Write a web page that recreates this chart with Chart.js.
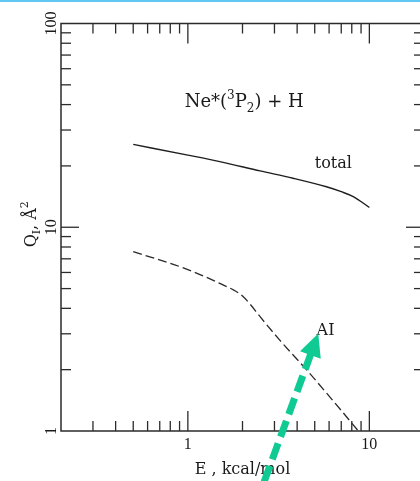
<!DOCTYPE html>
<html><head><meta charset="utf-8">
<script src="https://cdn.jsdelivr.net/npm/chart.js@4"></script>
<style>
html,body{margin:0;padding:0;background:#fff;overflow:hidden;width:420px;height:481px;}
#wrap{position:absolute;left:0;top:0;width:426px;height:481px;}
#bar{position:absolute;left:0;top:0;width:420px;height:2px;background:#62c6f2;z-index:2;}
</style></head><body>
<div id="bar"></div>
<div id="wrap"><canvas id="c"></canvas></div>
<script>
// ---- data ----
const totalEnergy = [0.5, 1.0, 1.5, 2.5, 3.8, 5.8, 7.0, 8.2, 10];
const totalQ      = [25.5, 22.6, 21.0, 18.9, 17.4, 15.8, 14.95, 14.1, 12.5];
const aiEnergy = [0.5, 1.0, 1.5, 1.8, 2.0, 2.2, 2.5, 3.2, 4.5, 6.3, 8.7];
const aiQ      = [7.6, 6.2, 5.3, 4.9, 4.6, 4.2, 3.64, 2.8, 2.0, 1.41, 1.0];
const xRange = [0.2, 20];
const yRange = [1, 100];
const xMajorTicks = [1, 10];
const xMinorTicks = [0.3, 0.4, 0.5, 0.6, 0.7, 0.8, 0.9, 2, 3, 4, 5, 6, 7, 8, 9];
const yMajorTicks = [10];
const yMinorTicks = [2, 3, 4, 5, 6, 7, 8, 9, 20, 30, 40, 50, 60, 70, 80, 90];
const xTickLabels = [1, 10];
const yTickLabels = [1, 10, 100];
const xTitle = 'E , kcal/mol';
const yTitleMain = 'Q', yTitleSub = 'I', yTitleMid = ', Å', yTitleSup = '2';
const titleA = 'Ne*(', titleSup = '3', titleB = 'P', titleSub = '2', titleC = ') + H';
const titleAnchor = [0.96, 39];     // data coords (E, Q) of title left baseline
const totalLabel = 'total', totalLabelAt = [5.0, 19.5];
const aiLabel = 'AI', aiLabelAt = [5.12, 2.96];
const arrowTail = [2.59, 0.542];
const arrowTip  = [5.23, 3.01];

const SERIF = '"DejaVu Serif", serif';
const NUMF = '"Liberation Serif", serif';

function drawRich(ctx, parts, x, y, align) {
  let w = 0;
  parts.forEach(p => { ctx.font = p.size + 'px ' + SERIF; p.w = ctx.measureText(p.t).width; w += p.w; });
  let cx = align === 'center' ? x - w / 2 : x;
  ctx.textAlign = 'left';
  ctx.textBaseline = 'alphabetic';
  parts.forEach(p => { ctx.font = p.size + 'px ' + SERIF; ctx.fillText(p.t, cx, y + p.dy); cx += p.w; });
}

const framePlugin = {
  id: 'framePlugin',
  afterDraw(chart) {
    const { ctx, chartArea: a, scales: { x, y } } = chart;
    ctx.save();
    ctx.strokeStyle = '#2b2b2b';
    ctx.lineWidth = 1.5;
    ctx.strokeRect(a.left, a.top, a.right - a.left, a.bottom - a.top);
    ctx.lineWidth = 1.3;
    const seg = (x1, y1, x2, y2) => { ctx.beginPath(); ctx.moveTo(x1, y1); ctx.lineTo(x2, y2); ctx.stroke(); };
    xMinorTicks.forEach(v => { const p = x.getPixelForValue(v); seg(p, a.bottom, p, a.bottom - 10); seg(p, a.top, p, a.top + 10); });
    xMajorTicks.forEach(v => { const p = x.getPixelForValue(v); seg(p, a.bottom, p, a.bottom - 20); seg(p, a.top, p, a.top + 20); });
    yMinorTicks.forEach(v => { const p = y.getPixelForValue(v); seg(a.left, p, a.left + 10, p); seg(a.right, p, a.right - 10, p); });
    yMajorTicks.forEach(v => { const p = y.getPixelForValue(v); seg(a.left, p, a.left + 18, p); seg(a.right, p, a.right - 18, p); });

    ctx.fillStyle = '#1a1a1a';
    ctx.font = '16px ' + NUMF;
    ctx.textAlign = 'center';
    ctx.textBaseline = 'middle';
    xTickLabels.forEach(v => ctx.fillText(String(v), x.getPixelForValue(v), a.bottom + 14));
    yTickLabels.forEach(v => {
      ctx.save();
      ctx.translate(a.left - 9.5, y.getPixelForValue(v));
      ctx.rotate(-Math.PI / 2);
      ctx.fillText(String(v), 0, 0);
      ctx.restore();
    });

    // axis titles
    drawRich(ctx, [{ t: xTitle, size: 16, dy: 0 }], (a.left + a.right) / 2, a.bottom + 43, 'center');
    ctx.save();
    ctx.translate(36, (a.top + a.bottom) / 2 - 3);
    ctx.rotate(-Math.PI / 2);
    drawRich(ctx, [
      { t: yTitleMain, size: 16, dy: 0 },
      { t: yTitleSub, size: 11, dy: 4 },
      { t: yTitleMid, size: 16, dy: 0 },
      { t: yTitleSup, size: 11, dy: -8 }
    ], 0, 0, 'center');
    ctx.restore();

    // chart title and curve labels
    drawRich(ctx, [
      { t: titleA, size: 18, dy: 0 },
      { t: titleSup, size: 12, dy: -8 },
      { t: titleB, size: 18, dy: 0 },
      { t: titleSub, size: 12, dy: 5 },
      { t: titleC, size: 18, dy: 0 }
    ], x.getPixelForValue(titleAnchor[0]), y.getPixelForValue(titleAnchor[1]), 'left');
    drawRich(ctx, [{ t: totalLabel, size: 16, dy: 0 }], x.getPixelForValue(totalLabelAt[0]), y.getPixelForValue(totalLabelAt[1]), 'left');
    drawRich(ctx, [{ t: aiLabel, size: 16, dy: 0 }], x.getPixelForValue(aiLabelAt[0]), y.getPixelForValue(aiLabelAt[1]), 'left');

    // green annotation arrow
    const tx = x.getPixelForValue(arrowTail[0]), ty = y.getPixelForValue(arrowTail[1]);
    const hx = x.getPixelForValue(arrowTip[0]), hy = y.getPixelForValue(arrowTip[1]);
    const len = Math.hypot(hx - tx, hy - ty);
    const ux = (hx - tx) / len, uy = (hy - ty) / len;
    const headL = 23, headW = 22;
    const bx = hx - ux * headL, by = hy - uy * headL;
    ctx.strokeStyle = '#0fcb93';
    ctx.fillStyle = '#0fcb93';
    ctx.lineWidth = 7;
    ctx.lineCap = 'butt';
    ctx.setLineDash([17, 7]);
    ctx.lineDashOffset = 0;
    ctx.beginPath(); ctx.moveTo(bx + ux * 2, by + uy * 2); ctx.lineTo(tx, ty); ctx.stroke();
    ctx.setLineDash([]);
    ctx.beginPath();
    ctx.moveTo(hx, hy);
    ctx.lineTo(bx - uy * headW / 2, by + ux * headW / 2);
    ctx.lineTo(bx + uy * headW / 2, by - ux * headW / 2);
    ctx.closePath();
    ctx.fill();
    ctx.restore();
  }
};

new Chart(document.getElementById('c'), {
  type: 'line',
  data: {
    datasets: [
      {
        label: 'total',
        data: totalEnergy.map((e, i) => ({ x: e, y: totalQ[i] })),
        borderColor: '#1e1e1e', borderWidth: 1.4, pointRadius: 0,
        cubicInterpolationMode: 'monotone', fill: false
      },
      {
        label: 'AI',
        data: aiEnergy.map((e, i) => ({ x: e, y: aiQ[i] })),
        borderColor: '#2a2a2a', borderWidth: 1.3, borderDash: [9, 4], pointRadius: 0,
        cubicInterpolationMode: 'monotone', fill: false
      }
    ]
  },
  options: {
    responsive: true, maintainAspectRatio: false, animation: false,
    layout: { padding: { left: 0, top: 23.5, right: 2, bottom: 0 } },
    plugins: { legend: { display: false }, tooltip: { enabled: false } },
    scales: {
      x: {
        type: 'logarithmic', position: 'bottom', min: xRange[0], max: xRange[1],
        ticks: { display: false }, grid: { display: false, drawTicks: false }, border: { display: false },
        afterFit: s => { s.height = 50; }
      },
      y: {
        type: 'logarithmic', position: 'left', min: yRange[0], max: yRange[1],
        ticks: { display: false }, grid: { display: false, drawTicks: false }, border: { display: false },
        afterFit: s => { s.width = 61; }
      }
    }
  },
  plugins: [framePlugin]
});
</script>
</body></html>
